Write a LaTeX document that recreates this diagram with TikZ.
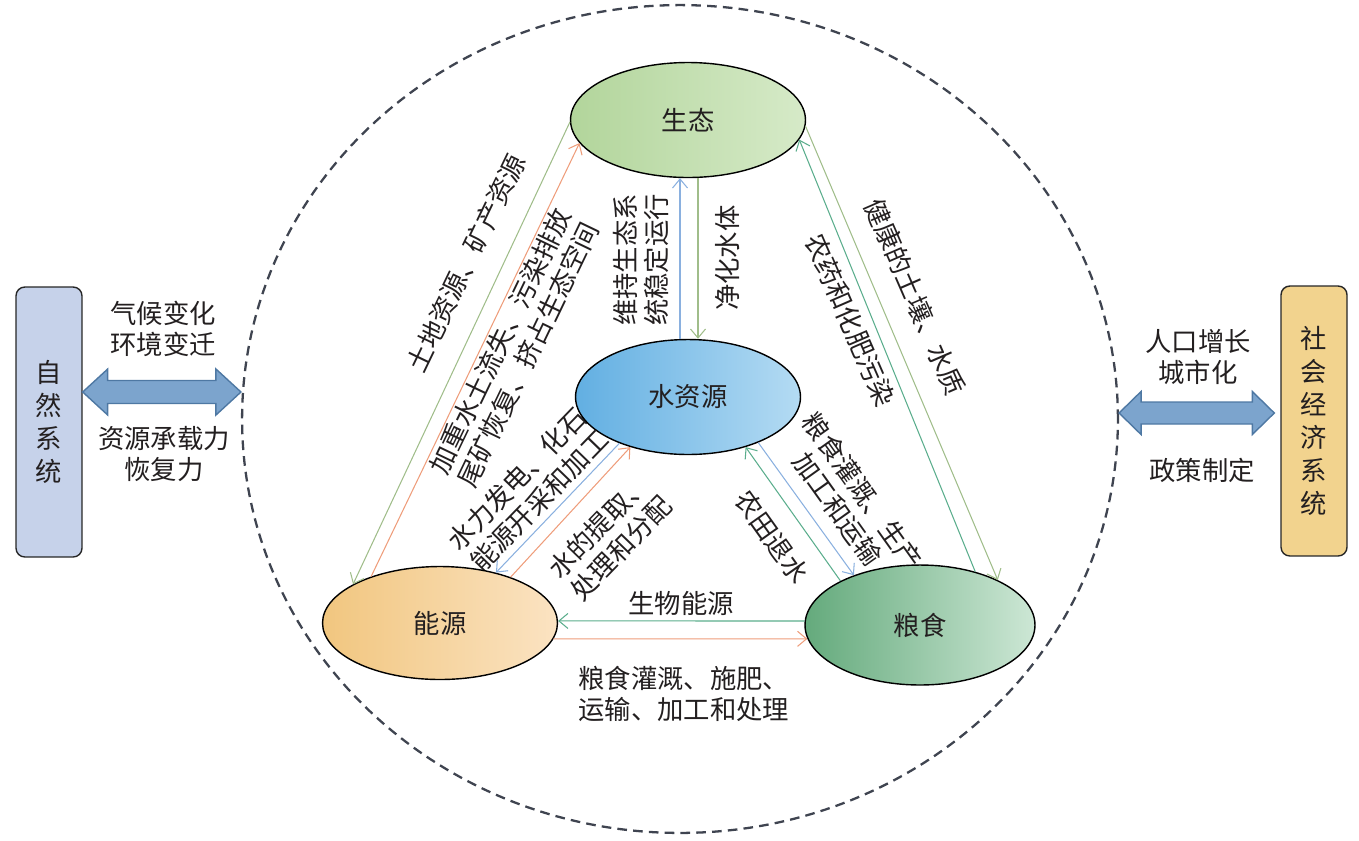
\documentclass[tikz,border=0pt]{standalone}
\usepackage{fontspec}
\usepackage{tikz}
\usetikzlibrary{positioning,arrows.meta,shapes.geometric,backgrounds,calc}
\newfontfamily\zhfont{Noto Sans CJK SC}
\definecolor{natc}{HTML}{C6D2EA}
\definecolor{socc}{HTML}{F2D38E}
\definecolor{bigc}{HTML}{7CA4CD}
\definecolor{bigd}{HTML}{4E78A3}
\definecolor{ringc}{HTML}{3F4450}
\definecolor{ecoa}{HTML}{B2D59B}
\definecolor{ecob}{HTML}{D6EAC8}
\definecolor{wata}{HTML}{62AFE2}
\definecolor{watb}{HTML}{B4DBF3}
\definecolor{enea}{HTML}{F1C67F}
\definecolor{eneb}{HTML}{FBE3C2}
\definecolor{fooda}{HTML}{64AA7C}
\definecolor{foodb}{HTML}{CDE7D5}
\definecolor{ecoln}{HTML}{A0BD8A}
\definecolor{watln}{HTML}{8AB0DF}
\definecolor{eneln}{HTML}{EE9D7B}
\definecolor{foodln}{HTML}{5AAD8C}
\definecolor{txtc}{HTML}{231F20}
\tikzset{
  hub/.style={ellipse, draw=black, line width=0.8pt, text=txtc,
              font=\zhfont\fontsize{15}{18}\selectfont,
              minimum width=4.7cm, minimum height=2.3cm},
  sysbox/.style={draw=black!85, rounded corners=5pt, line width=0.8pt, align=center,
                 text=txtc, font=\zhfont\fontsize{15}{18.7}\selectfont,
                 minimum width=1.32cm, minimum height=5.4cm},
  ring/.style={ellipse, draw=ringc, line width=1.3pt, dash pattern=on 5.5pt off 3.5pt,
               minimum width=17.52cm, minimum height=16.56cm},
  flow/.style={-{Straight Barb[length=1.8mm, width=3mm]}, line width=0.6pt},
  ecoarr/.style={flow, draw=ecoln},
  watarr/.style={flow, draw=watln},
  enearr/.style={flow, draw=eneln},
  foodarr/.style={flow, draw=foodln},
  bigarr/.style={draw=bigd, fill=bigc, line width=0.8pt, line join=miter},
  lbl/.style={font=\zhfont\fontsize{15}{17.5}\selectfont, align=center,
              inner sep=0pt, text=txtc},
}

\begin{document}
\begin{tikzpicture}[x=0.02cm, y=-0.02cm]
  \useasboundingbox (0,0) rectangle (1359,840);
  \node[ring] (bound) at (680,419) {};
  \node[sysbox, fill=natc] (nat) at (49,422) {自\\然\\系\\统};
  \node[sysbox, fill=socc] (soc) at (1314,421) {社\\会\\经\\济\\系\\统};
  \node[hub, left color=ecoa, right color=ecob] (eco) at (688,120) {生态};
  \node[hub, left color=wata, right color=watb, minimum width=4.5cm] (water) at (688,397) {水资源};
  \node[hub, left color=enea, right color=eneb, minimum height=2.26cm] (energy) at (440,623) {能源};
  \node[hub, left color=fooda, right color=foodb, minimum width=4.6cm, minimum height=2.4cm] (food) at (920,625) {粮食};

  \coordinate (la) at (nat.east |- 0,392);
  \coordinate (lb) at (bound.west |- 0,392);
  \coordinate (ra) at (bound.east |- 0,413);
  \coordinate (rb) at ($(soc.west |- 0,413)+(-6,0)$);
  \draw[bigarr] (la) -- ++(25,-23) -- ++(0,11.5) -- ($(lb)+(-25,-11.5)$) -- ++(0,-11.5) -- (lb)
    -- ++(-25,23) -- ++(0,-11.5) -- ($(la)+(25,11.5)$) -- ++(0,11.5) -- cycle;
  \draw[bigarr] (ra) -- ++(22,-21.5) -- ++(0,10.5) -- ($(rb)+(-22,-11)$) -- ++(0,-10.5) -- (rb)
    -- ++(-22,21.5) -- ++(0,-10.5) -- ($(ra)+(22,11)$) -- ++(0,10.5) -- cycle;

  \draw[ecoarr] (eco.181) -- (energy.156);
  \draw[enearr] (energy.146) -- (eco.192);
  \draw[watarr] ($(water.north)+(-8,0)$) -- ($(eco.south)+(-8,0)$);
  \draw[ecoarr] ($(eco.south)+(10,0)$) -- ($(water.north)+(10,0)$);
  \draw[foodarr] (food.44) -- (eco.-10);
  \draw[ecoarr] (eco.-3) -- (food.30);
  \draw[watarr] (water.-33) -- (food.143);
  \draw[foodarr] (food.151) -- (water.-41);
  \draw[watarr] (water.214) -- (energy.42);
  \draw[enearr] (energy.33) -- (water.221);
  \draw[foodarr] (food.178) -- (energy.1);
  \draw[enearr] (energy.-8) -- (food.187);

  \begin{scope}[on background layer]
    \node[lbl] (tclim) at (163,329) {气候变化\\环境变迁};
    \node[lbl] (tcap) at (164,454) {资源承载力\\恢复力};
    \node[lbl] (tpop) at (1198,357) {人口增长\\城市化};
    \node[lbl] (tpol) at (1202,470) {政策制定};
    \node[lbl, rotate=64.3] (tland) at (466,263) {土地资源、矿产资源};
    \node[lbl, rotate=64.3] (tsoil) at (514,348) {加重水土流失、污染排放\\尾矿恢复、挤占生态空间};
    \node[lbl, rotate=90] (tkeep) at (641,260) {维持生态系\\统稳定运行};
    \node[lbl, rotate=90] (tpure) at (727,258) {净化水体};
    \node[lbl, rotate=-66.5] (thealth) at (915,297) {健康的土壤、水质};
    \node[lbl, rotate=-66.5] (tpest) at (850,320) {农药和化肥污染};
    \node[lbl, rotate=45.9] (thydro) at (528,490) {水力发电、化石\\能源开采和加工};
    \node[lbl, rotate=45.9] (textr) at (610,537) {水的提取、\\处理和分配};
    \node[lbl, rotate=-54.5] (tirri) at (850,500) {粮食灌溉、生产\\加工和运输};
    \node[lbl, rotate=-54.5] (tdrain) at (772,537) {农田退水};
    \node[lbl] (tbio) at (681,603) {生物能源};
    \node[lbl, align=left, anchor=west] (tfeed) at (578,694) {粮食灌溉、施肥、\\运输、加工和处理};
  \end{scope}
\end{tikzpicture}
\end{document}
